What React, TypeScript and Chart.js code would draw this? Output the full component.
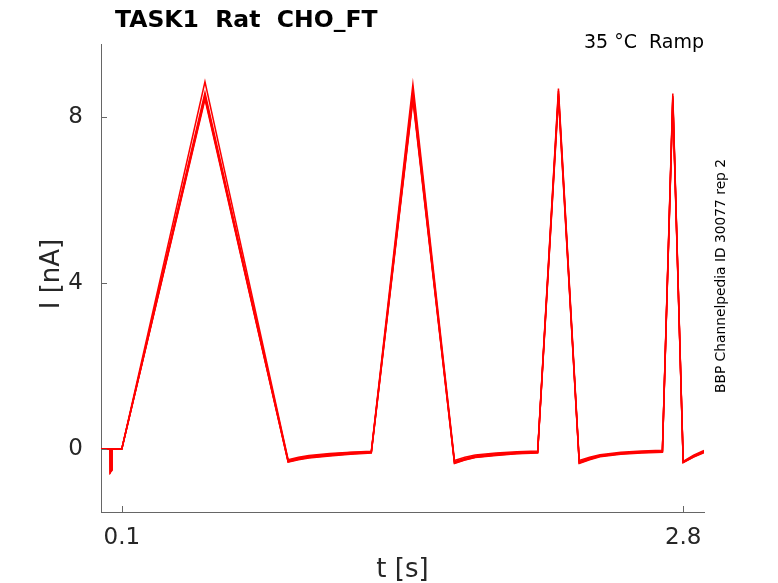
import { useEffect, useRef } from "react"
import { Chart, registerables } from "chart.js"

Chart.register(...registerables)

// sample times (s) where the sweeps change direction or bend
const timePoints = [
  0, 0.044, 0.045, 0.051, 0.052, 0.1, 0.5, 0.9, 0.95, 1.0, 1.1, 1.2, 1.3, 1.5, 1.7, 1.75,
  1.8, 1.9, 2.0, 2.1, 2.2, 2.3, 2.35, 2.4, 2.5, 2.6, 2.7, 2.75, 2.8, 2.85, 2.9,
]

// current (nA) of each sweep at the times above
const sweep1 = [
  0, 0, -0.57, -0.52, 0, 0, 8.84, -0.26, -0.2, -0.16, -0.11, -0.08, -0.06, 8.78, -0.28, -0.2,
  -0.15, -0.1, -0.07, -0.05, 8.68, -0.28, -0.2, -0.14, -0.08, -0.05, -0.03, 8.56, -0.3, -0.15, -0.04,
]
const sweep2 = [
  0, 0, -0.55, -0.5, 0, 0, 8.58, -0.28, -0.22, -0.18, -0.13, -0.09, -0.07, 8.62, -0.31, -0.23,
  -0.17, -0.12, -0.09, -0.07, 8.62, -0.31, -0.22, -0.16, -0.1, -0.07, -0.05, 8.5, -0.31, -0.17, -0.06,
]
const sweep3 = [
  0, 0, -0.56, -0.5, 0, 0, 8.5, -0.3, -0.24, -0.2, -0.15, -0.11, -0.08, 8.5, -0.33, -0.25,
  -0.19, -0.14, -0.1, -0.08, 8.55, -0.33, -0.24, -0.17, -0.11, -0.08, -0.06, 8.46, -0.32, -0.18, -0.07,
]
const sweep4 = [
  0, 0, -0.54, -0.49, 0, 0, 8.46, -0.31, -0.25, -0.21, -0.16, -0.12, -0.09, 8.45, -0.34, -0.26,
  -0.2, -0.15, -0.11, -0.09, 8.5, -0.34, -0.25, -0.18, -0.12, -0.09, -0.07, 8.42, -0.33, -0.19, -0.08,
]
const sweep5 = [
  0, 0, -0.55, -0.51, 0, 0, 8.42, -0.32, -0.26, -0.22, -0.17, -0.13, -0.1, 8.4, -0.35, -0.27,
  -0.21, -0.16, -0.12, -0.1, 8.45, -0.35, -0.26, -0.19, -0.13, -0.1, -0.08, 8.38, -0.33, -0.2, -0.09,
]
const sweeps = [sweep1, sweep2, sweep3, sweep4, sweep5]

const xTicks = [0.1, 2.8]
const yTicks = [0, 4, 8]

const FONT = "'DejaVu Sans', sans-serif"
const AXIS_COLOR = "#666666"
const TEXT_COLOR = "#262626"

const overlay = {
  id: "overlay",
  afterDraw(chart: any) {
    const { ctx, chartArea } = chart
    const xs = chart.scales.x
    const ys = chart.scales.y
    ctx.save()

    // inward tick marks
    ctx.strokeStyle = AXIS_COLOR
    ctx.lineWidth = 1
    ctx.beginPath()
    xTicks.forEach((v) => {
      const px = Math.round(xs.getPixelForValue(v)) + 0.5
      ctx.moveTo(px, chartArea.bottom)
      ctx.lineTo(px, chartArea.bottom - 6)
    })
    yTicks.forEach((v) => {
      const py = Math.round(ys.getPixelForValue(v)) + 0.5
      ctx.moveTo(chartArea.left, py)
      ctx.lineTo(chartArea.left + 6, py)
    })
    ctx.stroke()

    ctx.fillStyle = "#000"
    ctx.textBaseline = "alphabetic"

    ctx.font = `bold 23.5px ${FONT}`
    ctx.textAlign = "left"
    ctx.fillText("TASK1  Rat  CHO_FT", 115, 26.5)

    ctx.font = `19px ${FONT}`
    ctx.textAlign = "right"
    ctx.fillText("35 °C  Ramp", chartArea.right, 48)

    ctx.fillStyle = TEXT_COLOR
    ctx.font = `26px ${FONT}`
    ctx.textAlign = "center"
    ctx.fillText("t [s]", (chartArea.left + chartArea.right) / 2, 577)

    ctx.save()
    ctx.translate(59, 274)
    ctx.rotate(-Math.PI / 2)
    ctx.fillText("I [nA]", 0, 0)
    ctx.restore()

    ctx.fillStyle = "#000"
    ctx.font = `13.8px ${FONT}`
    ctx.save()
    ctx.translate(725, 276)
    ctx.rotate(-Math.PI / 2)
    ctx.fillText("BBP Channelpedia ID 30077 rep 2", 0, 0)
    ctx.restore()

    ctx.restore()
  },
}

const App = () => {
  const canvasRef = useRef<HTMLCanvasElement>(null)
  const chartRef = useRef<Chart | null>(null)

  useEffect(() => {
    if (!canvasRef.current) return
    if (chartRef.current) chartRef.current.destroy()

    const datasets = sweeps.map((sweep) => ({
      data: timePoints.map((t, i) => ({ x: t, y: sweep[i] })),
      borderColor: "#ff0000",
      borderWidth: 1.5,
      pointRadius: 0,
      tension: 0,
      fill: false,
    }))

    chartRef.current = new Chart(canvasRef.current, {
      type: "line",
      data: { datasets },
      options: {
        animation: false,
        responsive: false,
        events: [],
        layout: { padding: { top: 44, right: 74, left: 0, bottom: 0 } },
        plugins: {
          legend: { display: false },
          tooltip: { enabled: false },
          title: { display: false },
        },
        scales: {
          x: {
            type: "linear",
            min: 0,
            max: 2.9,
            grid: { display: false, drawTicks: false },
            border: { display: true, color: AXIS_COLOR, width: 1 },
            afterBuildTicks: (scale: any) => {
              scale.ticks = xTicks.map((v) => ({ value: v }))
            },
            afterFit: (scale: any) => {
              scale.height = 71
            },
            ticks: {
              padding: 12,
              maxRotation: 0,
              autoSkip: false,
              color: TEXT_COLOR,
              font: { family: FONT, size: 23 },
              callback: (v: any) => String(v),
            },
          },
          y: {
            type: "linear",
            min: -1.52,
            max: 9.75,
            grid: { display: false, drawTicks: false },
            border: { display: true, color: AXIS_COLOR, width: 1 },
            afterBuildTicks: (scale: any) => {
              scale.ticks = yTicks.map((v) => ({ value: v }))
            },
            afterFit: (scale: any) => {
              scale.width = 101
            },
            ticks: {
              padding: 18,
              autoSkip: false,
              color: TEXT_COLOR,
              font: { family: FONT, size: 23 },
              callback: (v: any) => String(v),
            },
          },
        },
      },
      plugins: [overlay],
    })

    return () => {
      if (chartRef.current) {
        chartRef.current.destroy()
        chartRef.current = null
      }
    }
  }, [])

  return (
    <div style={{ position: "fixed", left: 0, top: 0, width: 778, height: 583, background: "#fff" }}>
      <canvas ref={canvasRef} width={778} height={583} style={{ width: 778, height: 583 }} />
    </div>
  )
}

export default App
